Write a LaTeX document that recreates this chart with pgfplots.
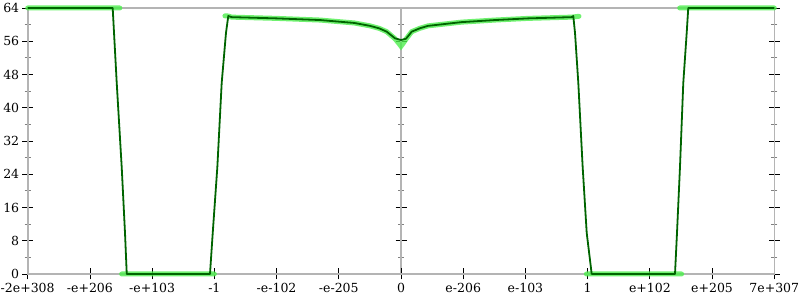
\documentclass[border=0pt]{standalone}
\usepackage{pgfplots}
\pgfplotsset{compat=1.18}
\usepackage{fontspec}
\setmainfont{DejaVu Serif}
\definecolor{axgray}{HTML}{B4B4B4}
\definecolor{dkgreen}{HTML}{006400}
\definecolor{ltgreen}{HTML}{4CEE4C}
\begin{document}
\begin{tikzpicture}
\pgfplotsset{
  common/.style={
    scale only axis, width=746.6bp, height=266bp,
    xmin=-6, xmax=6, ymin=0, ymax=64,
    ytick={0,8,...,64}, minor y tick num=1,
    tick align=center,
    major tick length=11bp, minor tick length=6bp,
    every tick/.style={black, line width=0.8bp},
    minor tick style={gray, line width=0.8bp},
    axis line style={axgray, line width=1.6bp},
    tick label style={font=\fontsize{12.5bp}{14bp}\selectfont},
    /pgf/number format/assume math mode=true,
    clip=false,
  }
}
% centre vertical line with its ticks
\begin{axis}[common,
  axis x line=none, axis y line=center,
  every inner y axis line/.append style={-},
  xtick=\empty, yticklabels={},
]
\end{axis}
\begin{axis}[common,
  xtick={-6,...,6},
  xticklabels={-2e+308,-e+206,-e+103,-1,-e-102,-e-205,0,e-206,e-103,1,e+102,e+205,7e+307},
  xtick pos=bottom, ytick pos=both,
  yticklabel pos=left,
  xticklabel style={yshift=-0.5bp},
  yticklabel style={xshift=0.5bp},
  unbounded coords=jump,
]
\addplot[ltgreen, opacity=0.8, line width=5bp, line cap=round] coordinates {
(-6,64) (-4.52,64) (-4.5,nan) (-4.49,0) (-3.0,0) (-2.9,nan)
(-2.83,62.1) (-2.776,62.07) (-2.721,61.8) (-2.0,61.5) (-1.302,61.1) (-0.75,60.4)
(-0.498,59.7) (-0.35,59.1) (-0.230,58.3) (-0.096,56.6) (-0.03,55.4) (0,54.8) (0.03,55.4) (0.08,56.5)
(0.172,58.3) (0.3,59.1) (0.434,59.7) (0.976,60.6) (1.511,61.1) (2.041,61.5) (2.743,61.8) (2.86,62.0)
(2.9,nan) (2.98,0) (4.51,0) (4.5,nan) (4.48,64) (6,64)
};
\addplot[dkgreen, line width=1.8bp, line join=round] coordinates {
(-6,64) (-4.634,64) (-4.569,45.95) (-4.489,25.7) (-4.436,9.87) (-4.408,0) (-3.070,0)
(-3.026,9.87) (-2.952,25.7) (-2.882,45.95) (-2.813,58.0) (-2.776,62.07) (-2.721,61.8)
(-2.0,61.5) (-1.302,61.1) (-0.75,60.4) (-0.498,59.7) (-0.35,59.1) (-0.230,58.3) (-0.096,56.7)
(0,56.3) (0.08,56.6) (0.172,58.3) (0.3,59.1) (0.434,59.7) (0.976,60.6) (1.511,61.1)
(2.041,61.5) (2.743,61.8) (2.769,62.07) (2.797,58.0) (2.850,45.95) (2.920,25.7) (2.985,9.87)
(3.065,0) (4.404,0) (4.436,9.87) (4.484,25.7) (4.537,45.95) (4.592,58.0) (4.617,64) (6,64)
};
\end{axis}
\pgfresetboundingbox
\path[use as bounding box] ([xshift=-27.7bp,yshift=-26bp]current axis.south west) rectangle ([xshift=25.7bp,yshift=8bp]current axis.north east);
\end{tikzpicture}
\end{document}
